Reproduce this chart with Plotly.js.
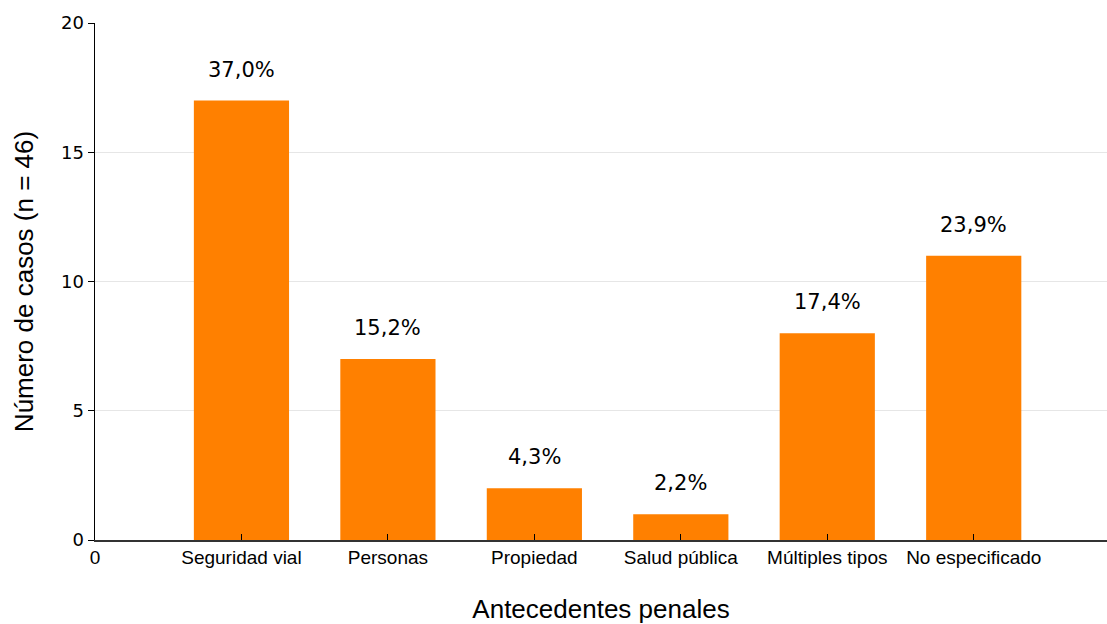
<!DOCTYPE html>
<html><head><meta charset="utf-8">
<script src="https://cdn.plot.ly/plotly-3.0.1.min.js"></script>
<style>html,body{margin:0;padding:0;background:#fff}</style>
</head><body>
<div id="chart" style="width:1107px;height:624px"></div>
<script>
const categories = ["Seguridad vial","Personas","Propiedad","Salud pública","Múltiples tipos","No especificado"];
const counts = [17, 7, 2, 1, 8, 11];
const percentLabels = ["37,0%","15,2%","4,3%","2,2%","17,4%","23,9%"];
const positions = categories.map((c,i)=>i+1);

const trace = {
  type: 'bar', x: positions, y: counts, width: 0.65,
  marker: {color: '#ff8000'}, hoverinfo: 'skip'
};
const annotations = positions.map((p,i)=>({
  x: p, y: counts[i], xref:'x', yref:'y', text: percentLabels[i],
  showarrow:false, yshift: 31, font:{family:'DejaVu Sans', size:21, color:'#000'}
}));
const layout = {
  width:1107, height:624,
  margin:{l:95, r:0, t:23, b:84},
  paper_bgcolor:'#fff', plot_bgcolor:'#fff',
  showlegend:false,
  xaxis:{
    range:[0,6.91], tickvals:[0].concat(positions), ticktext:['0'].concat(categories),
    ticks:'inside', ticklen:6, tickcolor:'#000', showgrid:false, zeroline:false,
    showline:true, linecolor:'#333', linewidth:1.5,
    tickfont:{family:'Liberation Sans, Arial', size:19, color:'#000'},
    title:{text:'Antecedentes penales', font:{family:'Liberation Sans, Arial', size:26, color:'#000'}, standoff:32}
  },
  yaxis:{
    range:[0,20], tickvals:[0,5,10,15,20], ticks:'outside', ticklen:6, tickcolor:'#000',
    showgrid:true, gridcolor:'#e6e6e6', gridwidth:1, zeroline:false,
    showline:true, linecolor:'#000', linewidth:1.5,
    tickfont:{family:'DejaVu Sans', size:18, color:'#000'},
    title:{text:'Número de casos (n = 46)', font:{family:'Liberation Sans, Arial', size:26, color:'#000'}, standoff:20}
  },
  annotations: annotations
};
Plotly.newPlot('chart',[trace],layout,{displayModeBar:false, staticPlot:true});
</script>
</body></html>
